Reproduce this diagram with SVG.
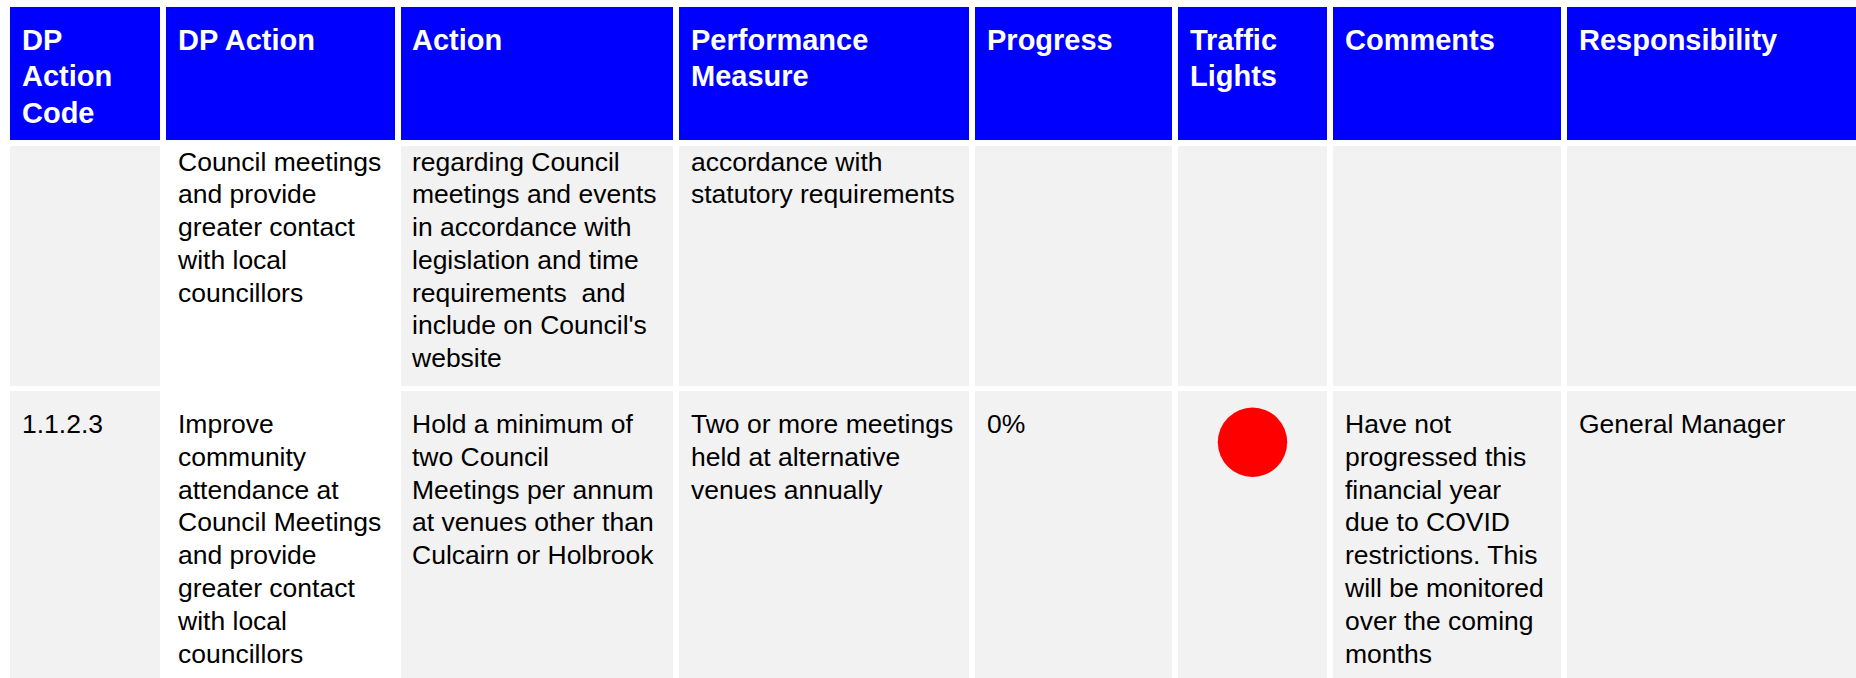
<svg xmlns="http://www.w3.org/2000/svg" width="1856" height="678" viewBox="0 0 1856 678">
<style>
.hd{fill:#0000ff}
.gc{fill:#f2f2f2}
.wc{fill:#ffffff}
.ht{font-family:"Liberation Sans",Arial,sans-serif;font-weight:bold;font-size:29px;fill:#ffffff}
.bt{font-family:"Liberation Sans",Arial,sans-serif;font-size:26.5px;fill:#000000}
</style>
<rect x="0" y="0" width="1856" height="678" fill="#ffffff"/>
<g id="header">
<g id="h-code"><rect class="hd" x="10" y="7" width="150" height="133"/><text class="ht"><tspan x="22" y="50">DP</tspan><tspan x="22" y="86">Action</tspan><tspan x="22" y="122.5">Code</tspan></text></g>
<g id="h-dpaction"><rect class="hd" x="166" y="7" width="229" height="133"/><text class="ht" x="178" y="50">DP Action</text></g>
<g id="h-action"><rect class="hd" x="401" y="7" width="272" height="133"/><text class="ht" x="412" y="50">Action</text></g>
<g id="h-perf"><rect class="hd" x="679" y="7" width="290" height="133"/><text class="ht"><tspan x="691" y="50">Performance</tspan><tspan x="691" y="86">Measure</tspan></text></g>
<g id="h-progress"><rect class="hd" x="975" y="7" width="197" height="133"/><text class="ht" x="987" y="50">Progress</text></g>
<g id="h-traffic"><rect class="hd" x="1178" y="7" width="149" height="133"/><text class="ht"><tspan x="1190" y="50">Traffic</tspan><tspan x="1190" y="86">Lights</tspan></text></g>
<g id="h-comments"><rect class="hd" x="1333" y="7" width="228" height="133"/><text class="ht" x="1345" y="50">Comments</text></g>
<g id="h-resp"><rect class="hd" x="1567" y="7" width="289" height="133"/><text class="ht" x="1579" y="50">Responsibility</text></g>
</g>
<g id="row1">
<g id="r1-code"><rect class="gc" x="10" y="146" width="150" height="240"/></g>
<g id="r1-dpaction"><rect class="wc" x="166" y="146" width="229" height="240"/><text class="bt"><tspan x="178" y="170.7">Council meetings</tspan><tspan x="178" y="203.4">and provide</tspan><tspan x="178" y="236.1">greater contact</tspan><tspan x="178" y="268.8">with local</tspan><tspan x="178" y="301.5">councillors</tspan></text></g>
<g id="r1-action"><rect class="gc" x="401" y="146" width="272" height="240"/><text class="bt"><tspan x="412" y="170.7">regarding Council</tspan><tspan x="412" y="203.4">meetings and events</tspan><tspan x="412" y="236.1">in accordance with</tspan><tspan x="412" y="268.8">legislation and time</tspan><tspan x="412" y="301.5" xml:space="preserve">requirements  and</tspan><tspan x="412" y="334.2">include on Council's</tspan><tspan x="412" y="366.9">website</tspan></text></g>
<g id="r1-perf"><rect class="gc" x="679" y="146" width="290" height="240"/><text class="bt"><tspan x="691" y="170.7">accordance with</tspan><tspan x="691" y="203.4">statutory requirements</tspan></text></g>
<g id="r1-progress"><rect class="gc" x="975" y="146" width="197" height="240"/></g>
<g id="r1-traffic"><rect class="gc" x="1178" y="146" width="149" height="240"/></g>
<g id="r1-comments"><rect class="gc" x="1333" y="146" width="228" height="240"/></g>
<g id="r1-resp"><rect class="gc" x="1567" y="146" width="289" height="240"/></g>
</g>
<g id="row2">
<g id="r2-code"><rect class="gc" x="10" y="391" width="150" height="287"/><text class="bt" x="22" y="432.8">1.1.2.3</text></g>
<g id="r2-dpaction"><rect class="wc" x="166" y="391" width="229" height="287"/><text class="bt"><tspan x="178" y="432.8">Improve</tspan><tspan x="178" y="465.6">community</tspan><tspan x="178" y="498.5">attendance at</tspan><tspan x="178" y="531.3">Council Meetings</tspan><tspan x="178" y="564.2">and provide</tspan><tspan x="178" y="597.0">greater contact</tspan><tspan x="178" y="629.9">with local</tspan><tspan x="178" y="662.7">councillors</tspan></text></g>
<g id="r2-action"><rect class="gc" x="401" y="391" width="272" height="287"/><text class="bt"><tspan x="412" y="432.8">Hold a minimum of</tspan><tspan x="412" y="465.6">two Council</tspan><tspan x="412" y="498.5">Meetings per annum</tspan><tspan x="412" y="531.3">at venues other than</tspan><tspan x="412" y="564.2">Culcairn or Holbrook</tspan></text></g>
<g id="r2-perf"><rect class="gc" x="679" y="391" width="290" height="287"/><text class="bt"><tspan x="691" y="432.8">Two or more meetings</tspan><tspan x="691" y="465.6">held at alternative</tspan><tspan x="691" y="498.5">venues annually</tspan></text></g>
<g id="r2-progress"><rect class="gc" x="975" y="391" width="197" height="287"/><text class="bt" x="987" y="432.8">0%</text></g>
<g id="r2-traffic"><rect class="gc" x="1178" y="391" width="149" height="287"/><circle cx="1252.5" cy="442.3" r="34.7" fill="#ff0000"/></g>
<g id="r2-comments"><rect class="gc" x="1333" y="391" width="228" height="287"/><text class="bt"><tspan x="1345" y="432.8">Have not</tspan><tspan x="1345" y="465.6">progressed this</tspan><tspan x="1345" y="498.5">financial year</tspan><tspan x="1345" y="531.3">due to COVID</tspan><tspan x="1345" y="564.2">restrictions. This</tspan><tspan x="1345" y="597.0">will be monitored</tspan><tspan x="1345" y="629.9">over the coming</tspan><tspan x="1345" y="662.7">months</tspan></text></g>
<g id="r2-resp"><rect class="gc" x="1567" y="391" width="289" height="287"/><text class="bt" x="1579" y="432.8">General Manager</text></g>
</g>
<g id="connectors"></g>
</svg>
